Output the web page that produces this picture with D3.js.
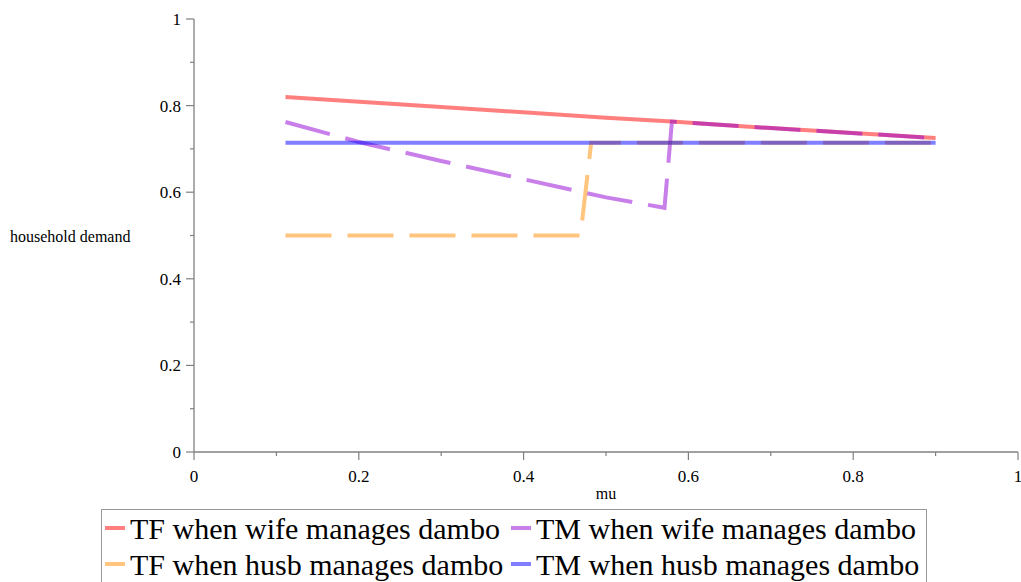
<!DOCTYPE html>
<html>
<head>
<meta charset="utf-8">
<title>household demand vs mu</title>
<style>
  body { margin: 0; background: #fff; }
</style>
</head>
<body>
<script src="https://cdn.jsdelivr.net/npm/d3@7"></script>
<script>
// values
var tfWifeMu  = [0.111, 0.3, 0.5, 0.58, 0.7, 0.9];
var tfWifeVal = [0.820, 0.797, 0.772, 0.763, 0.748, 0.725];

var tmWifeMu  = [0.111, 0.2, 0.3, 0.4, 0.5, 0.571, 0.58, 0.7, 0.9];
var tmWifeVal = [0.762, 0.716, 0.672, 0.630, 0.588, 0.564, 0.763, 0.748, 0.725];

var tfHusbMu  = [0.111, 0.469, 0.482, 0.9];
var tfHusbVal = [0.5, 0.5, 0.714, 0.714];

var tmHusbMu  = [0.111, 0.9];
var tmHusbVal = [0.714, 0.714];

var seriesNames = ["TF when wife manages dambo", "TM when wife manages dambo",
                   "TF when husb manages dambo", "TM when husb manages dambo"];
var seriesColors = ["#ff0000", "#9400d3", "#ff8c00", "#0000ff"];
var seriesDash = [null, "46,16", "46,16", null];

var xTicks = [0, 0.2, 0.4, 0.6, 0.8, 1];
var yTicks = [0, 0.2, 0.4, 0.6, 0.8, 1];

function main() {
    var width = 1021, height = 582;
    var serif = "'Liberation Serif', 'Times New Roman', 'DejaVu Serif', serif";
    var svg = d3.select("body").append("svg")
        .attr("width", width).attr("height", height)
        .attr("font-family", serif);

    var x = d3.scaleLinear().domain([0, 1]).range([194, 1018]);
    var y = d3.scaleLinear().domain([0, 1]).range([452, 19]);

    var axisColor = "#808080";

    // x axis
    var gx = svg.append("g").attr("transform", "translate(0," + y(0) + ")");
    gx.append("line").attr("x1", x(0)).attr("x2", x(1))
        .attr("stroke", axisColor).attr("stroke-width", 1.3);
    gx.selectAll(".minor").data(d3.range(0, 1.01, 0.1)).enter().append("line")
        .attr("x1", function (d) { return x(d); }).attr("x2", function (d) { return x(d); })
        .attr("y1", 0).attr("y2", function (d, i) { return i % 2 ? 4 : 8; })
        .attr("stroke", axisColor).attr("stroke-width", 1.2);
    gx.selectAll("text").data(xTicks).enter().append("text")
        .attr("x", function (d) { return x(d); }).attr("y", 30)
        .attr("text-anchor", "middle").attr("font-size", 17)
        .text(function (d) { return d; });

    // y axis
    var gy = svg.append("g").attr("transform", "translate(" + x(0) + ",0)");
    gy.append("line").attr("y1", y(0)).attr("y2", y(1))
        .attr("stroke", axisColor).attr("stroke-width", 1.3);
    gy.selectAll(".minor").data(d3.range(0, 1.01, 0.1)).enter().append("line")
        .attr("y1", function (d) { return y(d); }).attr("y2", function (d) { return y(d); })
        .attr("x1", 0).attr("x2", function (d, i) { return i % 2 ? -4 : -8; })
        .attr("stroke", axisColor).attr("stroke-width", 1.2);
    gy.selectAll("text").data(yTicks).enter().append("text")
        .attr("x", -13).attr("y", function (d) { return y(d) + 6; })
        .attr("text-anchor", "end").attr("font-size", 17)
        .text(function (d) { return d; });

    // axis titles
    svg.append("text").attr("x", 10).attr("y", 242)
        .attr("font-size", 16).text("household demand");
    svg.append("text").attr("x", x(0.5)).attr("y", 499)
        .attr("text-anchor", "middle").attr("font-size", 16).text("mu");

    // curves
    var mus = [tfWifeMu, tmWifeMu, tfHusbMu, tmHusbMu];
    var vals = [tfWifeVal, tmWifeVal, tfHusbVal, tmHusbVal];
    var line = d3.line().x(function (d) { return x(d[0]); }).y(function (d) { return y(d[1]); });

    mus.forEach(function (m, i) {
        var pts = m.map(function (v, j) { return [v, vals[i][j]]; });
        svg.append("path").datum(pts)
            .attr("d", line)
            .attr("fill", "none")
            .attr("stroke", seriesColors[i])
            .attr("stroke-opacity", 0.5)
            .attr("stroke-width", 4)
            .attr("stroke-dasharray", seriesDash[i]);
    });

    // legend
    var lg = svg.append("g");
    lg.append("rect").attr("x", 101.5).attr("y", 509.5)
        .attr("width", 825).attr("height", 90)
        .attr("fill", "#fff").attr("stroke", "#999").attr("stroke-width", 1);
    var colX = [105, 511], rowY = [528, 564];
    seriesNames.forEach(function (name, i) {
        var cx = colX[i % 2], cy = rowY[Math.floor(i / 2)];
        lg.append("line").attr("x1", cx).attr("x2", cx + 20)
            .attr("y1", cy).attr("y2", cy)
            .attr("stroke", seriesColors[i]).attr("stroke-opacity", 0.5)
            .attr("stroke-width", 4);
        lg.append("text").attr("x", cx + 25).attr("y", cy + 11)
            .attr("font-size", 30).text(name);
    });
}

window.onload = function () {
    main();
};
</script>
</body>
</html>
